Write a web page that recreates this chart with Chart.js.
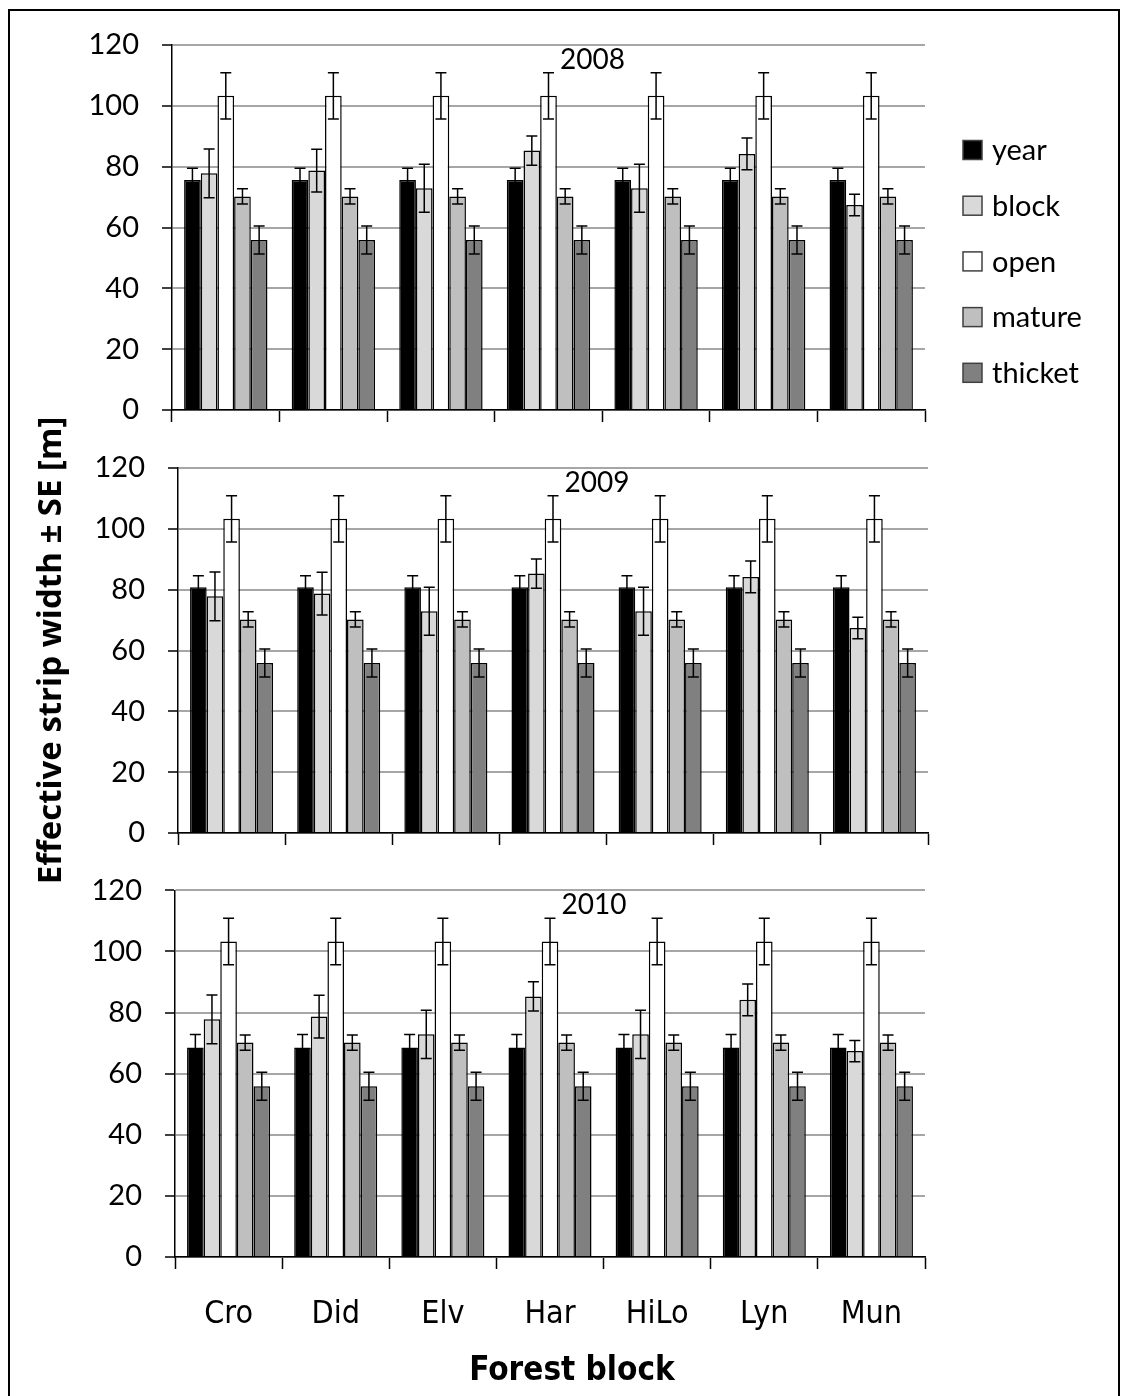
<!DOCTYPE html>
<html>
<head>
<meta charset="utf-8">
<title>Effective strip width by forest block</title>
<script src="https://cdn.jsdelivr.net/npm/chart.js@4.4.1/dist/chart.umd.min.js"></script>
<style>
  html, body { margin: 0; padding: 0; background: #fff; }
  #page { position: relative; width: 1125px; height: 1396px; overflow: hidden; background: #fff; }
  #frame { position: absolute; left: 8px; top: 9px; width: 1112px; height: 1400px; border: 2px solid #000; box-sizing: border-box; }
  canvas { position: absolute; left: 0; }
</style>
</head>
<body>
<div id="page">
  <div id="frame"></div>
  <canvas id="chart2008" width="1125" height="460" style="top:0px"></canvas>
  <canvas id="chart2009" width="1125" height="485" style="top:415px"></canvas>
  <canvas id="chart2010" width="1125" height="546" style="top:850px"></canvas>
</div>
<script>
// ===== data =====
const forestBlocks = ['Cro', 'Did', 'Elv', 'Har', 'HiLo', 'Lyn', 'Mun'];
const seriesNames = ['year', 'block', 'open', 'mature', 'thicket'];
const yTicks = [0, 20, 40, 60, 80, 100, 120];

const year2008 = [75.6, 75.6, 75.6, 75.6, 75.6, 75.6, 75.6];
const year2008Se = [3.9, 3.9, 3.9, 3.9, 3.9, 3.9, 3.9];
const year2009 = [80.8, 80.8, 80.8, 80.8, 80.8, 80.8, 80.8];
const year2009Se = [3.8, 3.8, 3.8, 3.8, 3.8, 3.8, 3.8];
const year2010 = [68.6, 68.6, 68.6, 68.6, 68.6, 68.6, 68.6];
const year2010Se = [4.2, 4.2, 4.2, 4.2, 4.2, 4.2, 4.2];

const blockMean = [77.8, 78.7, 72.9, 85.3, 72.9, 84.2, 67.4];
const blockSe = [8.0, 7.0, 7.9, 4.8, 7.9, 5.2, 3.5];
const openMean = [103.3, 103.3, 103.3, 103.3, 103.3, 103.3, 103.3];
const openSe = [7.6, 7.6, 7.6, 7.6, 7.6, 7.6, 7.6];
const matureMean = [70.2, 70.2, 70.2, 70.2, 70.2, 70.2, 70.2];
const matureSe = [2.5, 2.5, 2.5, 2.5, 2.5, 2.5, 2.5];
const thicketMean = [55.9, 55.9, 55.9, 55.9, 55.9, 55.9, 55.9];
const thicketSe = [4.6, 4.6, 4.6, 4.6, 4.6, 4.6, 4.6];

// ===== styles =====
const barColors = ['#000000', '#d9d9d9', '#ffffff', '#bfbfbf', '#808080'];
const FONT = 'Lato, "Open Sans", sans-serif';
const NARROW = '"Liberation Sans Narrow", "DejaVu Sans Condensed", Lato, sans-serif';

Chart.defaults.font.family = FONT;
Chart.defaults.color = '#000';

// error bars drawn from the dataset's se array through the y scale
const errorBars = {
    id: 'errorBars',
    afterDatasetsDraw(chart) {
        const ctx = chart.ctx;
        const y = chart.scales.y;
        ctx.save();
        ctx.strokeStyle = '#000';
        ctx.lineWidth = 1.5;
        chart.data.datasets.forEach((ds, i) => {
            chart.getDatasetMeta(i).data.forEach((bar, j) => {
                const hi = y.getPixelForValue(ds.data[j] + ds.se[j]);
                const lo = y.getPixelForValue(ds.data[j] - ds.se[j]);
                const x = bar.x;
                ctx.beginPath();
                ctx.moveTo(x, hi); ctx.lineTo(x, lo);
                ctx.moveTo(x - 5.5, hi); ctx.lineTo(x + 5.5, hi);
                ctx.moveTo(x - 5.5, lo); ctx.lineTo(x + 5.5, lo);
                ctx.stroke();
            });
        });
        ctx.restore();
    }
};

// year label inside the plot area, plus the x caption under the last panel
const panelTitle = {
    id: 'panelTitle',
    afterDatasetsDraw(chart, args, opts) {
        const ca = chart.chartArea;
        const ctx = chart.ctx;
        ctx.save();
        ctx.font = '28px ' + FONT;
        ctx.fillStyle = '#000';
        ctx.textAlign = 'center';
        ctx.textBaseline = 'middle';
        ctx.fillText(opts.text, (ca.left + ca.right) / 2 + 44, ca.top + 15);
        if (opts.caption) {
            ctx.font = 'bold 33px ' + NARROW;
            ctx.fillText(opts.caption, (ca.left + ca.right) / 2 + 22, ca.bottom + 114);
        }
        ctx.restore();
    }
};

// legend to the right of the first panel
const sideLegend = {
    id: 'sideLegend',
    afterDraw(chart, args, opts) {
        if (!opts.show) return;
        const ctx = chart.ctx;
        ctx.save();
        ctx.font = '29px ' + FONT;
        ctx.textBaseline = 'middle';
        chart.data.datasets.forEach((ds, i) => {
            const cy = 150 + i * 55.7;
            ctx.fillStyle = ds.backgroundColor;
            ctx.fillRect(963, cy - 9.5, 19, 19);
            ctx.strokeStyle = '#404040';
            ctx.lineWidth = 1.5;
            ctx.strokeRect(963, cy - 9.5, 19, 19);
            ctx.fillStyle = '#000';
            ctx.fillText(ds.label, 992, cy + 1);
        });
        ctx.restore();
    }
};

function makeDatasets(yearMean, yearSe) {
    const means = [yearMean, blockMean, openMean, matureMean, thicketMean];
    const ses = [yearSe, blockSe, openSe, matureSe, thicketSe];
    return seriesNames.map((name, i) => ({
        label: name,
        data: means[i],
        se: ses[i],
        backgroundColor: barColors[i],
        borderColor: '#000',
        borderWidth: 1.5,
        categoryPercentage: 0.775,
        barPercentage: 1.0
    }));
}

function makePanel(p) {
    const H = p.canvasHeight;
    const areaTop = p.area.top - p.canvasTop;
    const areaBottom = p.area.bottom - p.canvasTop;
    new Chart(document.getElementById(p.id), {
        type: 'bar',
        data: { labels: forestBlocks, datasets: makeDatasets(p.yearMean, p.yearSe) },
        options: {
            responsive: false,
            animation: false,
            devicePixelRatio: 1,
            layout: { padding: { left: 0, right: 1125 - p.area.right, top: areaTop, bottom: p.padBottom } },
            plugins: {
                legend: { display: false },
                tooltip: { enabled: false },
                panelTitle: { text: p.title, caption: p.xLabels ? 'Forest block' : '' },
                sideLegend: { show: p.legend }
            },
            scales: {
                x: {
                    grid: { offset: true, drawOnChartArea: false, tickLength: 12, tickColor: '#000', tickWidth: 1.5 },
                    border: { color: '#000', width: 1.5 },
                    ticks: { display: p.xLabels, padding: 26, font: { family: NARROW, size: 32 }, color: '#000' },
                    afterFit: s => { s.height = H - p.padBottom - areaBottom; }
                },
                y: {
                    min: 0,
                    max: 120,
                    afterBuildTicks: s => { s.ticks = yTicks.map(v => ({ value: v })); },
                    ticks: { padding: 23, font: { size: 29 }, color: '#000' },
                    grid: { color: '#a6a6a6', lineWidth: 2, tickLength: 10, tickColor: '#000', tickWidth: 1.5 },
                    border: { color: '#000', width: 1.5 },
                    title: {
                        display: p.yTitle, text: 'Effective strip width ± SE [m]', color: '#000',
                        font: { family: '"Open Sans", Lato, sans-serif', size: 33, weight: 'bold' },
                        padding: { top: 32, bottom: 0 }
                    },
                    afterFit: s => { s.width = p.area.left; }
                }
            }
        },
        plugins: [errorBars, panelTitle, sideLegend]
    });
}

const panels = [
    { id: 'chart2008', title: '2008', yearMean: year2008, yearSe: year2008Se, canvasTop: 0, canvasHeight: 460,
      area: { left: 172, right: 925, top: 45, bottom: 410 }, padBottom: 20, legend: true, xLabels: false, yTitle: false },
    { id: 'chart2009', title: '2009', yearMean: year2009, yearSe: year2009Se, canvasTop: 415, canvasHeight: 485,
      area: { left: 178, right: 928, top: 468, bottom: 833 }, padBottom: 37, legend: false, xLabels: false, yTitle: true },
    { id: 'chart2010', title: '2010', yearMean: year2010, yearSe: year2010Se, canvasTop: 850, canvasHeight: 546,
      area: { left: 175, right: 925, top: 889, bottom: 1257 }, padBottom: 0, legend: false, xLabels: true, yTitle: false }
];

panels.forEach(makePanel);
</script>
</body>
</html>
